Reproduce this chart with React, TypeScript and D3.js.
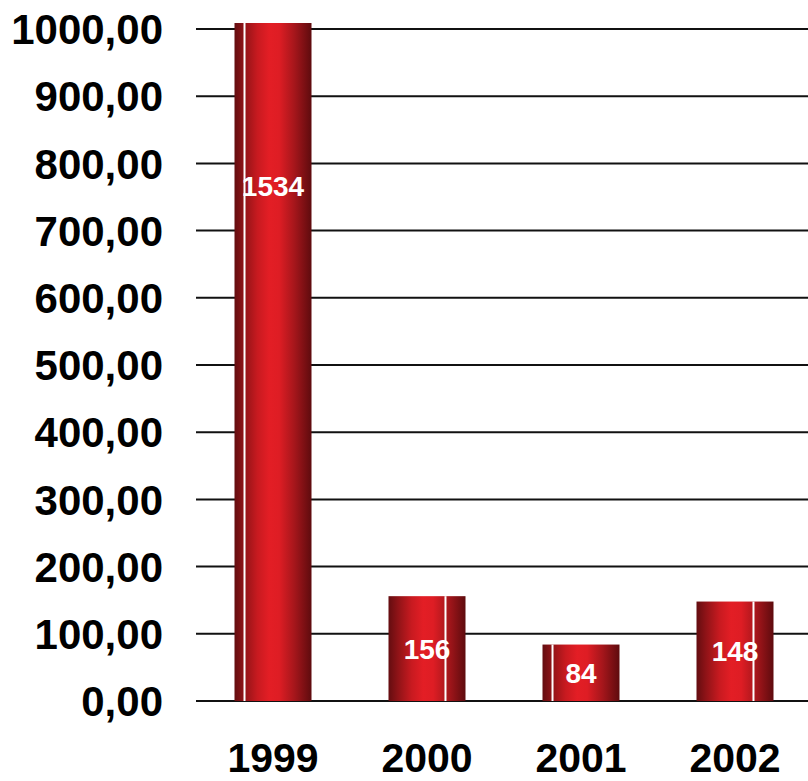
import { useMemo } from 'react';
import * as d3 from 'd3';

const years = ['1999', '2000', '2001', '2002'];
const values = [1534, 156, 84, 148];
const yTicks = [0, 100, 200, 300, 400, 500, 600, 700, 800, 900, 1000];

const WIDTH = 808;
const HEIGHT = 781;
const PLOT = { left: 196, right: 812, top: 29, bottom: 701 };
const CLIP_TOP = 23;
const FONT = '"Liberation Sans", Arial, sans-serif';

const fmt = (v: number) => d3.format('.2f')(v).replace('.', ',');

export default function App() {
  const xScale = useMemo(
    () =>
      d3
        .scaleBand()
        .domain(years)
        .range([PLOT.left, PLOT.right])
        .paddingInner(0.5)
        .paddingOuter(0.25),
    []
  );

  const yScale = useMemo(
    () => d3.scaleLinear().domain([0, 1000]).range([PLOT.bottom, PLOT.top]),
    []
  );

  const bw = xScale.bandwidth();

  return (
    <svg
      width={WIDTH}
      height={HEIGHT}
      style={{ position: 'absolute', left: 0, top: 0, background: '#fff' }}
      fontFamily={FONT}
    >
      <defs>
        <linearGradient id="barGrad" x1="0" x2="1" y1="0" y2="0">
          <stop offset="0%" stopColor="#640d10" />
          <stop offset="12%" stopColor="#8e1317" />
          <stop offset="30%" stopColor="#c81a20" />
          <stop offset="45%" stopColor="#e31e25" />
          <stop offset="58%" stopColor="#de1d24" />
          <stop offset="78%" stopColor="#a5161b" />
          <stop offset="100%" stopColor="#5e0b0e" />
        </linearGradient>
        <clipPath id="plotClip">
          <rect x={0} y={CLIP_TOP} width={WIDTH} height={HEIGHT - CLIP_TOP} />
        </clipPath>
      </defs>

      {/* grid lines */}
      {yTicks.map((t) => (
        <line
          key={t}
          x1={PLOT.left}
          x2={WIDTH}
          y1={yScale(t)}
          y2={yScale(t)}
          stroke="#111"
          strokeWidth={2}
        />
      ))}

      {/* y labels */}
      {yTicks.map((t) => (
        <text
          key={'l' + t}
          x={163}
          y={yScale(t)}
          dy="0.36em"
          textAnchor="end"
          fontSize={42}
          fontWeight="bold"
          fill="#000"
        >
          {fmt(t)}
        </text>
      ))}

      {/* bars */}
      <g clipPath="url(#plotClip)">
        {years.map((yr, i) => {
          const x = xScale(yr)!;
          const y = yScale(values[i]);
          const hx = x + bw * (i % 2 === 0 ? 0.13 : 0.74);
          return (
            <g key={yr}>
              <rect x={x} y={y} width={bw} height={PLOT.bottom - y} fill="url(#barGrad)" />
              <line x1={hx} x2={hx} y1={y} y2={PLOT.bottom} stroke="#fff" strokeWidth={2} />
            </g>
          );
        })}
      </g>

      {/* value labels */}
      {years.map((yr, i) => {
        const y = yScale(values[i]);
        return (
          <text
            key={'v' + yr}
            x={xScale(yr)! + bw / 2}
            y={(y + PLOT.bottom) / 2}
            dy="0.36em"
            textAnchor="middle"
            fontSize={28}
            fontWeight="bold"
            fill="#fff"
          >
            {values[i]}
          </text>
        );
      })}

      {/* x labels */}
      {years.map((yr) => (
        <text
          key={'x' + yr}
          x={xScale(yr)! + bw / 2}
          y={772}
          textAnchor="middle"
          fontSize={41}
          fontWeight="bold"
          fill="#000"
        >
          {yr}
        </text>
      ))}
    </svg>
  );
}
